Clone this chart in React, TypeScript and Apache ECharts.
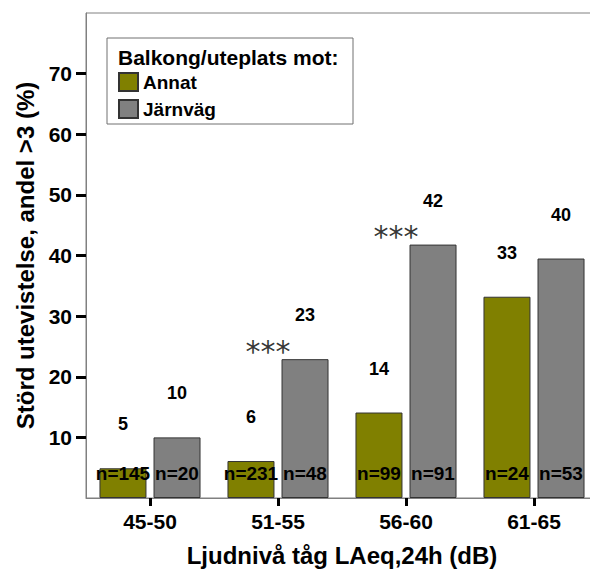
import React, { useEffect, useRef } from "react";
import * as echarts from "echarts";

// Noise-exposure bands along the x axis
const categories = ["45-50", "51-55", "56-60", "61-65"];
// Share (%) reporting disturbed outdoor stay, by what the balcony/patio faces
const annat = [4.9, 6.1, 14.1, 33.2];
const jarnvag = [10.0, 22.9, 41.8, 39.5];
// Respondent counts per bar
const nAnnat = [145, 231, 99, 24];
const nJarnvag = [20, 48, 91, 53];
// Significance markers between the two groups
const sigMarks = ["", "***", "***", ""];
// Tick values shown on the y axis
const yTicks = [10, 20, 30, 40, 50, 60, 70];

const FONT = "'Liberation Sans', Arial, sans-serif";
const OLIVE = "#808000";
const GREY = "#808080";
const EDGE = "#333333";
const BAR_W = 47;
const BAR_GAP = "15%";

export default function App() {
  const ref = useRef<HTMLDivElement>(null);

  useEffect(() => {
    if (!ref.current) return;
    const chart = echarts.init(ref.current, null, { renderer: "svg" });

    const valueLabel = {
      show: true,
      position: "top",
      distance: 35,
      color: "#000",
      fontFamily: FONT,
      fontWeight: "bold",
      fontSize: 18,
      formatter: (p: any) => String(Math.round(p.value)),
    };

    const countLabel = (counts: number[]) => ({
      show: true,
      position: "insideBottom",
      distance: 15,
      color: "#000",
      fontFamily: FONT,
      fontWeight: "bold",
      fontSize: 19,
      formatter: (p: any) => "n=" + counts[p.dataIndex],
    });

    chart.setOption({
      animation: false,
      backgroundColor: "#ffffff",
      grid: {
        left: 86,
        top: 13,
        width: 512,
        height: 485,
        show: true,
        borderColor: GREY,
        borderWidth: 1,
        containLabel: false,
        outerBoundsMode: "none",
      },
      legend: {
        data: ["Annat", "Järnväg"],
        orient: "vertical",
        left: 118,
        top: 72,
        padding: 0,
        itemWidth: 19,
        itemHeight: 18,
        itemGap: 7,
        icon: "rect",
        selectedMode: false,
        textStyle: {
          color: "#000",
          fontFamily: FONT,
          fontWeight: "bold",
          fontSize: 19,
        },
      },
      graphic: [
        {
          type: "rect",
          z: 0,
          shape: { x: 107, y: 38, width: 246, height: 86 },
          style: { fill: "#fff", stroke: "#707070", lineWidth: 1 },
        },
        {
          type: "text",
          z: 1,
          x: 118,
          y: 57,
          style: {
            text: "Balkong/uteplats mot:",
            fill: "#000",
            font: `bold 21px ${FONT}`,
            textVerticalAlign: "middle",
          },
        },
      ],
      xAxis: [
        {
          type: "category",
          data: categories,
          boundaryGap: true,
          axisLine: { show: true, lineStyle: { color: GREY, width: 1 } },
          axisTick: {
            show: true,
            alignWithLabel: true,
            length: 8,
            lineStyle: { color: "#000", width: 3 },
          },
          axisLabel: {
            color: "#000",
            fontFamily: FONT,
            fontWeight: "bold",
            fontSize: 21,
            margin: 13,
          },
          name: "Ljudnivå tåg LAeq,24h (dB)",
          nameLocation: "middle",
          nameGap: 45,
          nameTextStyle: {
            color: "#000",
            fontFamily: FONT,
            fontWeight: "bold",
            fontSize: 24,
          },
          splitLine: { show: false },
        },
        {
          type: "category",
          data: categories,
          show: false,
        },
      ],
      yAxis: {
        type: "value",
        min: 0,
        max: 80,
        interval: 10,
        axisLine: { show: true, lineStyle: { color: GREY, width: 1 } },
        axisTick: {
          show: true,
          customValues: yTicks,
          length: 10,
          lineStyle: { color: "#000", width: 3 },
        },
        axisLabel: {
          customValues: yTicks,
          color: "#000",
          fontFamily: FONT,
          fontWeight: "bold",
          fontSize: 21,
          margin: 14,
        },
        splitLine: { show: false },
        name: "Störd utevistelse, andel >3 (%)",
        nameLocation: "middle",
        nameGap: 49,
        nameTextStyle: {
          color: "#000",
          fontFamily: FONT,
          fontWeight: "bold",
          fontSize: 24,
        },
      },
      series: [
        {
          name: "Annat",
          type: "bar",
          xAxisIndex: 0,
          data: annat,
          barWidth: BAR_W,
          barGap: BAR_GAP,
          itemStyle: { color: OLIVE, borderColor: EDGE, borderWidth: 1 },
          label: valueLabel,
          z: 2,
        },
        {
          name: "Järnväg",
          type: "bar",
          xAxisIndex: 0,
          data: jarnvag,
          barWidth: BAR_W,
          barGap: BAR_GAP,
          itemStyle: { color: GREY, borderColor: EDGE, borderWidth: 1 },
          label: valueLabel,
          z: 2,
        },
        {
          name: "nAnnat",
          type: "bar",
          xAxisIndex: 1,
          data: annat,
          barWidth: BAR_W,
          barGap: BAR_GAP,
          silent: true,
          itemStyle: { color: "rgba(0,0,0,0)", borderWidth: 0 },
          label: countLabel(nAnnat),
          z: 3,
        },
        {
          name: "nJarnvag",
          type: "bar",
          xAxisIndex: 1,
          data: jarnvag,
          barWidth: BAR_W,
          barGap: BAR_GAP,
          silent: true,
          itemStyle: { color: "rgba(0,0,0,0)", borderWidth: 0 },
          label: countLabel(nJarnvag),
          z: 3,
        },
        {
          name: "sig",
          type: "scatter",
          xAxisIndex: 0,
          data: jarnvag.map((v, i) => [i, v]),
          symbolSize: 0,
          silent: true,
          label: {
            show: true,
            position: "top",
            distance: 0,
            offset: [-10, 7],
            color: "#000",
            fontFamily: "'DejaVu Sans', sans-serif",
            fontSize: 30,
            formatter: (p: any) => sigMarks[p.dataIndex] || "",
          },
          z: 4,
        },
      ],
    });

    return () => chart.dispose();
  }, []);

  return (
    <div
      ref={ref}
      style={{ position: "absolute", left: 0, top: 0, width: 590, height: 570 }}
    />
  );
}
